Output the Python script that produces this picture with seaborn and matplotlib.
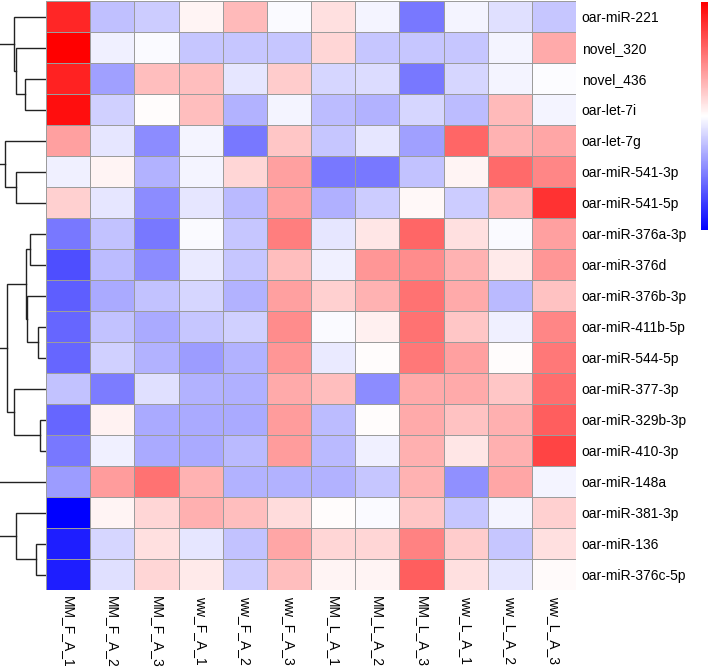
import matplotlib
matplotlib.use("Agg")
from matplotlib import pyplot as plt
import numpy as np
import pandas as pd
import seaborn as sns

# samples (columns) and miRNAs (rows), in the order shown
samples = ["MM_F_A_1", "MM_F_A_2", "MM_F_A_3", "ww_F_A_1", "ww_F_A_2", "ww_F_A_3",
           "MM_L_A_1", "MM_L_A_2", "MM_L_A_3", "ww_L_A_1", "ww_L_A_2", "ww_L_A_3"]

mirnas = ["oar-miR-221", "novel_320", "novel_436", "oar-let-7i", "oar-let-7g",
          "oar-miR-541-3p", "oar-miR-541-5p", "oar-miR-376a-3p", "oar-miR-376d",
          "oar-miR-376b-3p", "oar-miR-411b-5p", "oar-miR-544-5p", "oar-miR-377-3p",
          "oar-miR-329b-3p", "oar-miR-410-3p", "oar-miR-148a", "oar-miR-381-3p",
          "oar-miR-136", "oar-miR-376c-5p"]

# row-scaled expression
expr = [
    [0.85, -0.25, -0.20, 0.04, 0.27, -0.02, 0.12, -0.04, -0.53, -0.04, -0.12, -0.22],
    [1.00, -0.06, -0.02, -0.22, -0.22, -0.22, 0.16, -0.22, -0.22, -0.22, -0.04, 0.33],
    [0.86, -0.37, 0.25, 0.25, -0.10, 0.20, -0.16, -0.14, -0.53, -0.16, -0.04, -0.01],
    [0.94, -0.18, 0.01, 0.25, -0.30, -0.04, -0.26, -0.30, -0.16, -0.26, 0.27, -0.04],
    [0.37, -0.10, -0.45, -0.04, -0.53, 0.22, -0.22, -0.10, -0.37, 0.60, 0.30, 0.35],
    [-0.06, 0.04, -0.30, -0.04, 0.16, 0.37, -0.53, -0.53, -0.24, 0.04, 0.58, 0.47],
    [0.18, -0.10, -0.45, -0.10, -0.27, 0.37, -0.31, -0.20, 0.03, -0.20, 0.27, 0.80],
    [-0.53, -0.24, -0.53, -0.02, -0.22, 0.50, -0.10, 0.10, 0.60, 0.12, -0.02, 0.37],
    [-0.69, -0.26, -0.45, -0.08, -0.22, 0.25, -0.06, 0.41, 0.45, 0.30, 0.08, 0.41],
    [-0.63, -0.33, -0.24, -0.16, -0.30, 0.37, 0.18, 0.30, 0.55, 0.33, -0.27, 0.24],
    [-0.60, -0.24, -0.33, -0.22, -0.18, 0.45, -0.02, 0.06, 0.55, 0.22, -0.06, 0.47],
    [-0.60, -0.18, -0.30, -0.39, -0.30, 0.41, -0.08, 0.01, 0.53, 0.37, 0.01, 0.53],
    [-0.24, -0.51, -0.12, -0.30, -0.31, 0.33, 0.25, -0.45, 0.33, 0.33, 0.22, 0.57],
    [-0.60, 0.05, -0.33, -0.33, -0.33, 0.39, -0.26, 0.01, 0.33, 0.24, 0.31, 0.63],
    [-0.53, -0.06, -0.33, -0.33, -0.27, 0.39, -0.27, -0.06, 0.31, 0.10, 0.31, 0.73],
    [-0.39, 0.39, 0.55, 0.30, -0.30, -0.30, -0.30, -0.22, 0.30, -0.43, 0.35, -0.04],
    [-1.00, 0.04, 0.16, 0.31, 0.25, 0.14, 0.01, -0.02, 0.22, -0.22, -0.04, 0.18],
    [-0.88, -0.16, 0.12, -0.10, -0.24, 0.35, 0.16, 0.16, 0.49, 0.20, -0.22, 0.12],
    [-0.88, -0.12, 0.16, 0.08, -0.20, 0.25, 0.04, 0.04, 0.63, 0.12, -0.10, 0.02],
]

# row clustering, scipy-style: (left id, right id, height); new ids start at 19
merges = [
    (13, 14, 6.0), (10, 11, 8.3), (17, 18, 10.0), (7, 8, 15.7), (9, 20, 18.3),
    (22, 23, 19.3), (2, 3, 20.7), (5, 6, 29.3), (16, 21, 29.3), (1, 25, 29.7),
    (0, 28, 31.7), (12, 19, 31.7), (24, 30, 38.3), (4, 26, 39.7), (29, 32, 52.0),
    (15, 27, 58.0), (31, 34, 64.0), (33, 35, 75.0),
]

df = pd.DataFrame(expr, index=mirnas, columns=samples)

W, H = 708, 670
fig = plt.figure(figsize=(W / 100, H / 100), dpi=100)
plt.rcParams['font.family'] = ['Liberation Sans', 'DejaVu Sans']

left, right, top, bottom = 46, 576, 1, 590
ax = fig.add_axes([left / W, 1 - bottom / H, (right - left) / W, (bottom - top) / H])
dax = fig.add_axes([0, 1 - bottom / H, left / W, (bottom - top) / H])
cax = fig.add_axes([701 / W, 1 - 230 / H, 10 / W, 228 / H])

sns.heatmap(df, cmap='bwr', vmin=-1, vmax=1, linewidths=0.6, linecolor='#9c9c9c',
            ax=ax, cbar_ax=cax)
ax.yaxis.tick_right()
ax.set_yticklabels(mirnas, rotation=0, fontsize=10)
ax.set_xticklabels(samples, rotation=-90, fontsize=10)
ax.tick_params(length=0, pad=4)
ax.set_xlabel('')
ax.set_ylabel('')
cax.set_yticks([])
ax.collections[0].colorbar.outline.set_visible(False)

# dendrogram from the merge table
n = len(mirnas)
pos = {i: i + 0.5 for i in range(n)}
hgt = {i: 0.0 for i in range(n)}
for k, (a, b, h) in enumerate(merges):
    node = n + k
    ya, yb = pos[a], pos[b]
    dax.plot([hgt[a], h, h, hgt[b]], [ya, ya, yb, yb], color='#222222', lw=1.0,
             solid_joinstyle='miter')
    pos[node] = (ya + yb) / 2
    hgt[node] = h
dax.set_xlim(45, 0)
dax.set_ylim(n, 0)
dax.axis('off')

fig.savefig('out.png', dpi=100)
